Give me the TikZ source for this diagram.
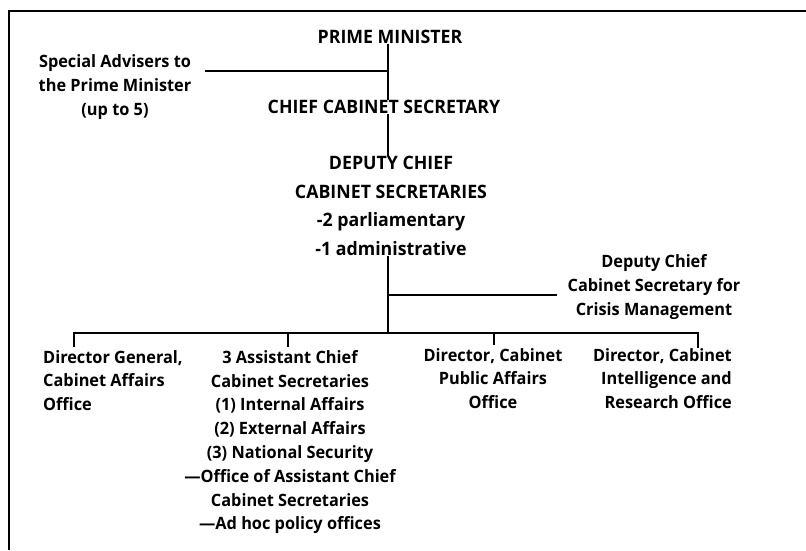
\documentclass[tikz,border=0pt]{standalone}
\usepackage{fontspec}
\setmainfont{Open Sans}[FakeStretch=0.96]
\tikzset{
    toptxt/.style={font=\bfseries\fontsize{18.5}{28.5}\selectfont, align=center, inner sep=0pt},
    boxtxt/.style={font=\bfseries\fontsize{17}{23.8}\selectfont, inner sep=0pt},
    link/.style={line width=1.4pt},
}
\begin{document}
\begin{tikzpicture}[x=1pt,y=-1pt]
        \useasboundingbox (0,0) rectangle (806,550);
        \draw[line width=1.6pt] (806,11) -- (9,11) -- (9,550);

        \node[toptxt] (pm) at (390,37) {PRIME MINISTER};
        \node[toptxt] (ccs) at (384,107) {CHIEF CABINET SECRETARY};
        \node[toptxt] (dcs) at (391,206) {DEPUTY CHIEF\\CABINET SECRETARIES\\-2 parliamentary\\-1 administrative};
        \node[boxtxt, align=center] (adv) at (115,87) {Special Advisers to\\the Prime Minister\\(up to 5)};
        \node[boxtxt, align=center] (crisis) at (654,287) {Deputy Chief\\Cabinet Secretary for\\Crisis Management};

        \node[boxtxt, align=left, anchor=north west] (dga) at (43,350) {Director General,\\Cabinet Affairs\\Office};
        \node[boxtxt, align=center, anchor=north] (acs) at (290,350) {3 Assistant Chief\\Cabinet Secretaries\\(1) Internal Affairs\\(2) External Affairs\\(3) National Security\\---Office of Assistant Chief\\Cabinet Secretaries\\---Ad hoc policy offices};
        \node[boxtxt, align=center, anchor=north] (pao) at (493,348) {Director, Cabinet\\Public Affairs\\Office};
        \node[boxtxt, align=right, anchor=north east] (iro) at (732,348) {Director, Cabinet\\Intelligence and\\Research Office};

        \coordinate (spine) at (388,71);
        \coordinate (advtip) at (205,71);
        \coordinate (crisistip) at (557,295);
        \coordinate (busL) at (74,333);
        \coordinate (busR) at (698,333);
        \coordinate (d1) at (74,347);
        \coordinate (d2) at (288,347);
        \coordinate (d3) at (494,345);
        \coordinate (d4) at (698,348);

        \draw[link] (pm.south -| spine) -- (ccs.north -| spine);
        \draw[link] (advtip) -- (spine);
        \draw[link] (ccs.south -| spine) -- (dcs.north -| spine);
        \draw[link] (dcs.south -| spine) -- (spine |- busL);
        \draw[link] (spine |- crisistip) -- (crisistip);
        \draw[link] (d1) -- (busL) -- (busR) -- (d4);
        \draw[link] (d2) -- (d2 |- busL);
        \draw[link] (d3) -- (d3 |- busL);

\end{tikzpicture}
\end{document}
